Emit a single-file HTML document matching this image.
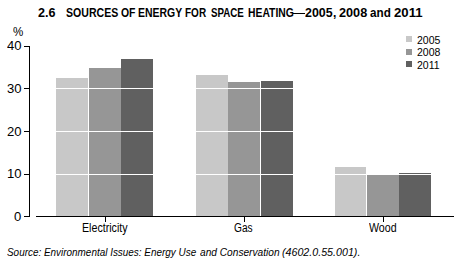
<!DOCTYPE html>
<html><head><meta charset="utf-8">
<style>
html,body{margin:0;padding:0;background:#fff;}
body{width:459px;height:262px;position:relative;overflow:hidden;font-family:"Liberation Sans",sans-serif;color:#000;}
.a{position:absolute;}
.t{position:absolute;white-space:nowrap;transform-origin:0 0;line-height:1;}
.c1{background:#c8c8c8;}
.c2{background:#969696;}
.c3{background:#606060;}
.k{background:#000;}
.y{left:6.63px;font-size:12px;transform:scaleX(1.09);}
.s{top:247px;font-size:10.5px;font-style:italic;}
.b{top:6.5px;font-size:12px;font-weight:bold;}
.g{background:#fff;}
</style></head><body>
<!-- title -->
<div class="t b" style="left:37.9px;transform:scaleX(1.048);">2.6</div>
<div class="t b" style="left:65.55px;transform:scaleX(0.88);">SOURCES</div>
<div class="t b" style="left:120.57px;transform:scaleX(0.87);">OF</div>
<div class="t b" style="left:138.05px;transform:scaleX(0.87);">ENERGY</div>
<div class="t b" style="left:185.28px;transform:scaleX(0.833);">FOR</div>
<div class="t b" style="left:210.68px;transform:scaleX(0.811);">SPACE</div>
<div class="t b" style="left:247.74px;transform:scaleX(0.8626);">HEATING</div>
<div class="t b" style="left:304.78px;transform:scaleX(1.033);">2005</div>
<div class="t b" style="left:333px;">,</div>
<div class="t b" style="left:339.27px;transform:scaleX(1.056);">2008</div>
<div class="t b" style="left:369.96px;transform:scaleX(0.973);">and</div>
<div class="t b" style="left:394.05px;transform:scaleX(1.097);">2011</div>
<div class="a k" style="left:293px;top:13px;width:12px;height:1px;"></div>

<!-- y labels -->
<div class="t" style="left:13.1px;top:26px;font-size:12px;transform:scaleX(0.964);">%</div>
<div class="t y" style="top:40px;">40</div>
<div class="t y" style="top:83px;">30</div>
<div class="t y" style="top:126px;">20</div>
<div class="t y" style="top:168px;">10</div>
<div class="t" style="left:14px;top:211px;font-size:12px;transform:scaleX(1.09);">0</div>

<!-- bars -->
<div class="a c1" style="left:56px;top:78px;width:32px;height:138px;"></div>
<div class="a c2" style="left:89px;top:68px;width:32px;height:148px;"></div>
<div class="a c3" style="left:121px;top:59px;width:32px;height:157px;"></div>
<div class="a c1" style="left:196px;top:75px;width:32px;height:141px;"></div>
<div class="a c2" style="left:228px;top:82px;width:32px;height:134px;"></div>
<div class="a c3" style="left:261px;top:81px;width:32px;height:135px;"></div>
<div class="a c1" style="left:335px;top:167px;width:31px;height:49px;"></div>
<div class="a c2" style="left:367px;top:175px;width:32px;height:41px;"></div>
<div class="a c3" style="left:399px;top:173px;width:32px;height:43px;"></div>

<!-- gridlines -->
<div class="a g" style="left:36px;top:88px;width:418px;height:1px;"></div>
<div class="a g" style="left:36px;top:131px;width:418px;height:1px;"></div>
<div class="a g" style="left:36px;top:174px;width:418px;height:1px;"></div>

<!-- axes -->
<div class="a k" style="left:29px;top:46px;width:1px;height:171px;"></div>
<div class="a k" style="left:24px;top:46px;width:5px;height:1px;"></div>
<div class="a k" style="left:24px;top:88px;width:5px;height:1px;"></div>
<div class="a k" style="left:24px;top:131px;width:5px;height:1px;"></div>
<div class="a k" style="left:24px;top:174px;width:5px;height:1px;"></div>
<div class="a k" style="left:24px;top:216px;width:5px;height:1px;"></div>
<div class="a k" style="left:36px;top:216px;width:418px;height:1px;"></div>
<div class="a k" style="left:105px;top:216px;width:1px;height:6px;"></div>
<div class="a k" style="left:244px;top:216px;width:1px;height:6px;"></div>
<div class="a k" style="left:383px;top:216px;width:1px;height:6px;"></div>

<!-- legend -->
<div class="a c1" style="left:406px;top:36px;width:6px;height:6px;"></div>
<div class="a c2" style="left:406px;top:49px;width:6px;height:6px;"></div>
<div class="a c3" style="left:406px;top:61px;width:6px;height:6px;"></div>
<div class="t" style="left:417px;top:35px;font-size:10.5px;">2005</div>
<div class="t" style="left:417px;top:47px;font-size:10.5px;">2008</div>
<div class="t" style="left:417px;top:60px;font-size:10.5px;">2011</div>

<!-- categories -->
<div class="t" style="left:82.41px;top:221.5px;font-size:12px;transform:scaleX(0.8876);">Electricity</div>
<div class="t" style="left:234.38px;top:221.5px;font-size:12px;transform:scaleX(0.848);">Gas</div>
<div class="t" style="left:369.4px;top:221.5px;font-size:12px;transform:scaleX(0.886);">Wood</div>

<!-- source -->
<div class="t s" style="left:6.96px;transform:scaleX(0.945);">Source: Environmental Issues: Energy Use</div>
<div class="t s" style="left:199.86px;transform:scaleX(0.967);">and Conservation</div>
<div class="t s" style="left:282.29px;transform:scaleX(1.017);">(4602.0.55.001).</div>
</body></html>
